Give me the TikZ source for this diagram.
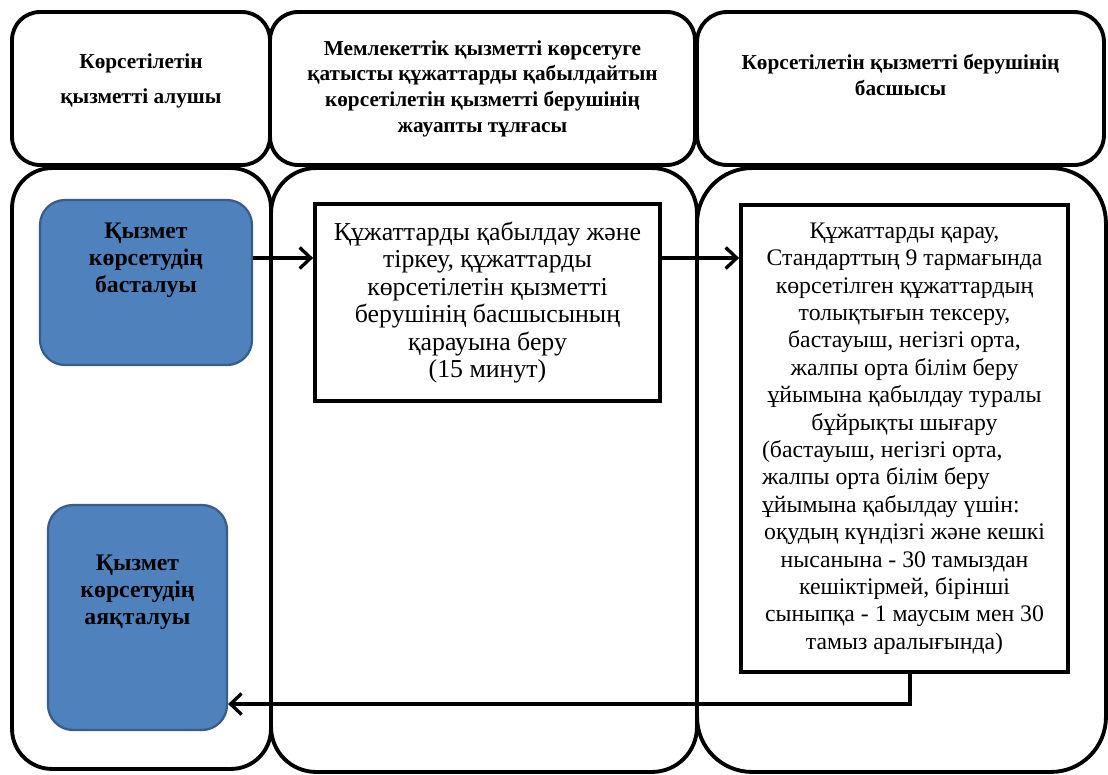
\documentclass[tikz,border=0pt]{standalone}
\usepackage{fontspec}
\setmainfont{Liberation Serif}
\usetikzlibrary{arrows.meta}

\definecolor{stepblue}{HTML}{4F81BD}
\definecolor{stepedge}{HTML}{385D8A}

\tikzset{
  lane/.style={draw, line width=2.2pt, inner sep=0pt},
  actbox/.style={draw, line width=2.2pt, fill=white, inner sep=0pt},
  endpoint/.style={draw=stepedge, fill=stepblue, line width=1.3pt,
    rounded corners=0.5cm, inner sep=0pt},
  bodytext/.style={align=center, font=\fontsize{14.7}{15.6}\selectfont},
  headtext/.style={align=center, font=\bfseries\fontsize{12.1}{14.6}\selectfont},
  arr/.style={-{Straight Barb[length=0.22cm,width=0.42cm]}, line width=1.9pt}
}
\newcommand{\flushline}[1]{\makebox[5.7cm][l]{#1}}

\begin{document}
\begin{tikzpicture}[x=0.02cm, y=-0.02cm]
  \useasboundingbox (0,0) rectangle (1108,774);

  % header row
  \node[lane, rounded corners=0.56cm, minimum width=5.16cm, minimum height=3.06cm]
    (head1) at (141,88.5) {};
  \node[lane, rounded corners=0.56cm, minimum width=8.5cm, minimum height=3.06cm]
    (head2) at (482.5,88.5) {};
  \node[lane, rounded corners=0.6cm, minimum width=8.14cm, minimum height=3.06cm]
    (head3) at (900.5,88.5) {};

  \node[headtext] (head1t) at (141,81) {Көрсетілетін\\[5pt] қызметті алушы};
  \node[headtext] (head2t) at (482.5,88.5) {Мемлекеттік қызметті көрсетуге\\
    қатысты құжаттарды қабылдайтын\\ көрсетілетін қызметті берушінің\\
    жауапты тұлғасы};
  \node[headtext] (head3t) at (900.5,75) {Көрсетілетін қызметті берушінің\\ басшысы};

  % swimlanes
  \node[lane, rounded corners=0.8cm, minimum width=5.18cm, minimum height=12.02cm]
    (lane1) at (141.5,468.5) {};
  \node[lane, rounded corners=0.9cm, minimum width=8.52cm, minimum height=12.08cm]
    (lane2) at (484,470) {};
  \node[lane, rounded corners=1.1cm, minimum width=8.18cm, minimum height=12.08cm]
    (lane3) at (901.5,470) {};

  % steps
  \node[endpoint, minimum width=4.24cm, minimum height=3.3cm] (start) at (146,282.5) {};
  \node[headtext, font=\bfseries\fontsize{13.5}{15.4}\selectfont]
    (startt) at (146,260) {Қызмет\\ көрсетудің\\ басталуы};

  \node[endpoint, minimum width=3.58cm, minimum height=4.5cm] (endbox) at (137.5,617.5) {};
  \node[headtext, font=\bfseries\fontsize{13.5}{15.4}\selectfont]
    (endboxt) at (137.5,592) {Қызмет\\ көрсетудің\\ аяқталуы};

  \node[actbox, bodytext, minimum width=6.9cm, minimum height=3.94cm]
    (box2) at (487.5,302.5) {Құжаттарды қабылдау және\\ тіркеу, құжаттарды\\
    көрсетілетін қызметті\\ берушінің басшысының\\ қарауына беру\\ (15 минут)};

  \node[actbox, bodytext, font=\fontsize{13.5}{15.6}\selectfont,
    minimum width=6.54cm, minimum height=9.34cm]
    (box3) at (904.5,438.5) {Құжаттарды қарау,\\ Стандарттың 9 тармағында\\
    көрсетілген құжаттардың\\ толықтығын тексеру,\\ бастауыш, негізгі орта,\\
    жалпы орта білім беру\\ ұйымына қабылдау туралы\\ бұйрықты шығару\\
    \flushline{(бастауыш, негізгі орта,}\\ \flushline{жалпы орта білім беру}\\
    \flushline{ұйымына қабылдау үшін:}\\ оқудың күндізгі және кешкі\\
    нысанына - 30 тамыздан\\ кешіктірмей, бірінші\\
    сыныпқа - 1 маусым мен 30\\ тамыз аралығында)};

  % connectors
  \coordinate (r1) at (0,258);
  \coordinate (r2) at (910,704);
  \draw[arr] (start.east |- r1) -- (box2.west |- r1);
  \draw[arr] (box2.east |- r1) -- (box3.west |- r1);
  \draw[arr] (box3.south -| r2) |- (endbox.east |- r2);
\end{tikzpicture}
\end{document}
